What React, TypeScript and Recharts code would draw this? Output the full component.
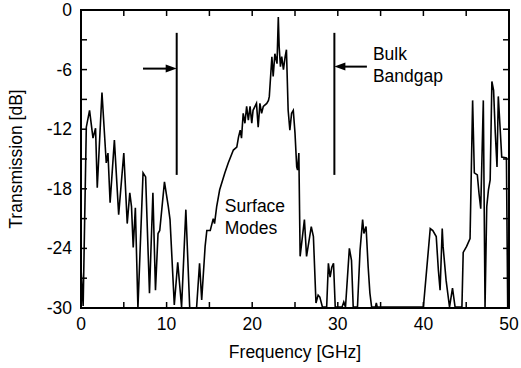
import React from "react";
import {
  LineChart,
  Line,
  XAxis,
  YAxis,
  Label,
  ReferenceLine,
  ReferenceDot,
} from "recharts";

// measured transmission trace (frequency in GHz, transmission in dB)
const freqGHz = [
  0.0, 0.25, 0.62, 1.0, 1.4, 1.7, 1.9, 2.45, 2.95, 3.15, 3.4, 3.9, 4.4, 5.0,
  5.4, 5.7, 5.9, 6.1, 6.35, 6.65, 7.25, 7.55, 8.0, 8.4, 8.7, 9.0, 9.2, 9.75,
  10.2, 10.4, 10.9, 11.3, 11.75, 12.25, 12.7, 13.5, 13.85, 14.1, 14.5, 14.7,
  15.1, 15.45, 15.6, 15.85, 16.2, 16.8, 17.2, 17.8, 18.2, 18.4, 18.6, 18.75,
  18.95, 19.15, 19.35, 19.55, 19.75, 19.95, 20.1, 20.5, 20.7, 20.9, 21.1, 21.3,
  21.7, 21.9, 22.0, 22.3, 22.45, 22.65, 22.9, 23.05, 23.15, 23.3, 23.45, 23.65,
  23.85, 24.0, 24.2, 24.4, 24.6, 24.8, 25.0, 25.2, 25.3, 25.45, 25.6, 26.1,
  26.35, 26.9, 27.15, 27.45, 27.7, 27.9, 28.2, 28.7, 28.9, 29.1, 29.3, 29.5,
  29.7, 30.5, 30.7, 30.9, 31.35, 31.6, 31.8, 32.3, 32.6, 32.9, 33.05, 33.3,
  33.55, 33.75, 33.95, 34.4, 34.5, 34.6, 40.0, 40.8, 41.1, 41.5, 41.75, 41.95,
  42.2, 42.3, 42.65, 43.05, 43.4, 43.7, 44.5, 44.65, 45.05, 45.45, 45.75,
  45.95, 46.3, 46.5, 46.7, 47.0, 47.2, 47.4, 47.6, 47.8, 48.0, 48.2, 48.4,
  48.6, 48.75, 48.95, 49.15, 49.7, 49.85,
];
const transmissionDb = [
  -26.0, -29.8, -11.8, -10.1, -12.9, -11.9, -17.9, -8.3, -15.4, -14.4, -19.4,
  -13.1, -20.6, -14.4, -21.5, -18.4, -19.8, -23.9, -19.9, -30, -16.4, -16.8,
  -28.5, -18.4, -28.2, -22.5, -22.2, -17.3, -19.8, -21.1, -29.7, -25.4, -29.9,
  -20.1, -30, -30, -25.5, -29.2, -23.8, -22.2, -22.2, -21.0, -21.5, -19.8,
  -18.1, -16.4, -15.4, -14.1, -13.8, -12.8, -12.1, -12.9, -10.4, -11.4, -9.7,
  -11.1, -9.7, -11.4, -10.1, -9.4, -11.8, -9.4, -10.4, -9.7, -9.4, -9.1, -8.7,
  -4.7, -6.7, -4.4, -5.4, -0.7, -3.7, -5.7, -4.7, -6.0, -4.7, -4.0, -10.1,
  -12.1, -10.4, -10.1, -12.4, -15.8, -16.1, -14.4, -24.8, -21.1, -24.8, -21.8,
  -22.8, -29.5, -28.7, -28.9, -29.9, -29.9, -25.5, -26.9, -25.9, -25.5, -29.9,
  -29.9, -29.4, -29.9, -24.0, -25.2, -29.9, -29.9, -24.2, -21.1, -22.5, -21.8,
  -25.9, -28.5, -29.9, -29.9, -29.5, -29.9, -29.9, -22.0, -22.2, -22.8, -26.2,
  -28.2, -22.0, -23.8, -27.2, -29.9, -28.0, -29.9, -29.9, -24.4, -23.8, -23.0,
  -9.1, -16.4, -16.6, -18.5, -20.0, -9.1, -29.9, -19.8, -18.1, -17.1, -7.2,
  -8.1, -12.4, -15.8, -8.7, -11.7, -14.8, -14.9, -30,
];

const xTicks = [0, 5, 10, 15, 20, 25, 30, 35, 40, 45, 50];
const yTicks = [-30, -27, -24, -21, -18, -15, -12, -9, -6, -3, 0];
const xMin = 0;
const xMax = 50;
const yMin = -30;
const yMax = 0;

// bandgap edge markers and arrows
const edgeFreqs = [11.18, 29.6];
const edgeTop = -2.3;
const edgeBottom = -16.6;
const arrowFrom = [7.24, 33.4];
const arrowDb = [-5.9, -5.7];

// two interior reference points used to recover the pixel scale for the frame
const refA = { x: 10, y: -24 };
const refB = { x: 40, y: -6 };

const FONT = "'Liberation Sans', Arial, sans-serif";
const FS = 17.5;
const TICK = 6;

const chartData = freqGHz.map((f, i) => ({ f, db: transmissionDb[i] }));

const BottomTick = (props: any) => {
  const { x, y, payload } = props;
  if (payload.value % 10 !== 0) return <g />;
  return (
    <text x={x} y={y + 22} textAnchor="middle" fontFamily={FONT} fontSize={FS} fill="#000">
      {payload.value}
    </text>
  );
};

const LeftTick = (props: any) => {
  const { x, y, payload } = props;
  if (payload.value % 6 !== 0) return <g />;
  return (
    <text x={x - 9} y={y + 6} textAnchor="end" fontFamily={FONT} fontSize={FS} fill="#000">
      {payload.value}
    </text>
  );
};

// box frame with inward ticks, positioned from the chart's own scale
const FrameShape = (props: any) => {
  const { x1, y1, x2, y2 } = props;
  const px = (v: number) => x1 + ((v - refA.x) * (x2 - x1)) / (refB.x - refA.x);
  const py = (v: number) => y1 + ((v - refA.y) * (y2 - y1)) / (refB.y - refA.y);
  const L = px(xMin);
  const R = px(xMax);
  const T = py(yMax);
  const B = py(yMin);
  return (
    <g>
      <rect x={L} y={T} width={R - L} height={B - T} fill="none" stroke="#000" strokeWidth={2} />
      {xTicks.map((t) => (
        <g key={`xt-${t}`}>
          <line x1={px(t)} x2={px(t)} y1={B} y2={B - TICK} stroke="#000" strokeWidth={1.5} />
          <line x1={px(t)} x2={px(t)} y1={T} y2={T + TICK} stroke="#000" strokeWidth={1.5} />
        </g>
      ))}
      {yTicks.map((t) => (
        <g key={`yt-${t}`}>
          <line x1={L} x2={L + TICK} y1={py(t)} y2={py(t)} stroke="#000" strokeWidth={1.5} />
          <line x1={R} x2={R - TICK} y1={py(t)} y2={py(t)} stroke="#000" strokeWidth={1.5} />
        </g>
      ))}
    </g>
  );
};

const Arrow = (props: any) => {
  const { x1, y1, x2, y2 } = props;
  const dir = x2 > x1 ? 1 : -1;
  return (
    <g>
      <line x1={x1} y1={y1} x2={x2 - dir * 8} y2={y2} stroke="#000" strokeWidth={2} />
      <polygon
        points={`${x2},${y2} ${x2 - dir * 11},${y2 - 4} ${x2 - dir * 11},${y2 + 4}`}
        fill="#000"
      />
    </g>
  );
};

const TwoLines = (lines: string[]) => (props: any) => {
  const { cx, cy } = props;
  return (
    <text x={cx} y={cy} fontFamily={FONT} fontSize={FS} fill="#000">
      <tspan x={cx}>{lines[0]}</tspan>
      <tspan x={cx} dy={22}>
        {lines[1]}
      </tspan>
    </text>
  );
};

export default function App() {
  return (
    <div style={{ position: "absolute", left: 0, top: 0, width: 521, height: 368 }}>
      <LineChart
        width={521}
        height={368}
        data={chartData}
        margin={{ top: 10, right: 12, bottom: 0, left: 0 }}
      >
        <XAxis
          dataKey="f"
          type="number"
          domain={[xMin, xMax]}
          ticks={xTicks}
          height={60}
          tickSize={0}
          tickMargin={0}
          tickLine={false}
          axisLine={{ stroke: "#000", strokeWidth: 2 }}
          tick={<BottomTick />}
        >
          <Label
            value="Frequency [GHz]"
            position="insideBottom"
            offset={10}
            style={{ fontFamily: FONT, fontSize: FS, fill: "#000" }}
          />
        </XAxis>
        <YAxis
          type="number"
          domain={[yMin, yMax]}
          ticks={yTicks}
          width={81}
          tickSize={0}
          tickMargin={0}
          tickLine={false}
          axisLine={{ stroke: "#000", strokeWidth: 2 }}
          tick={<LeftTick />}
        >
          <Label
            content={(p: any) => {
              const vb = p.viewBox;
              const cx = 22;
              const cy = vb.y + vb.height / 2;
              return (
                <text
                  x={cx}
                  y={cy}
                  transform={`rotate(-90 ${cx} ${cy})`}
                  textAnchor="middle"
                  fontFamily={FONT}
                  fontSize={FS}
                  fill="#000"
                >
                  Transmission [dB]
                </text>
              );
            }}
          />
        </YAxis>
        <ReferenceLine
          ifOverflow="visible"
          segment={[refA, refB]}
          shape={<FrameShape />}
        />
        {edgeFreqs.map((ef) => (
          <ReferenceLine
            key={`edge-${ef}`}
            segment={[
              { x: ef, y: edgeTop },
              { x: ef, y: edgeBottom },
            ]}
            stroke="#000"
            strokeWidth={2}
          />
        ))}
        {edgeFreqs.map((ef, i) => (
          <ReferenceLine
            key={`arrow-${ef}`}
            segment={[
              { x: arrowFrom[i], y: arrowDb[i] },
              { x: ef, y: arrowDb[i] },
            ]}
            shape={<Arrow />}
          />
        ))}
        <ReferenceDot x={16.8} y={-20.3} r={0} shape={TwoLines(["Surface", "Modes"])} />
        <ReferenceDot x={34.1} y={-5.0} r={0} shape={TwoLines(["Bulk", "Bandgap"])} />
        <Line
          type="linear"
          dataKey="db"
          stroke="#000"
          strokeWidth={1.6}
          dot={false}
          isAnimationActive={false}
        />
      </LineChart>
    </div>
  );
}
